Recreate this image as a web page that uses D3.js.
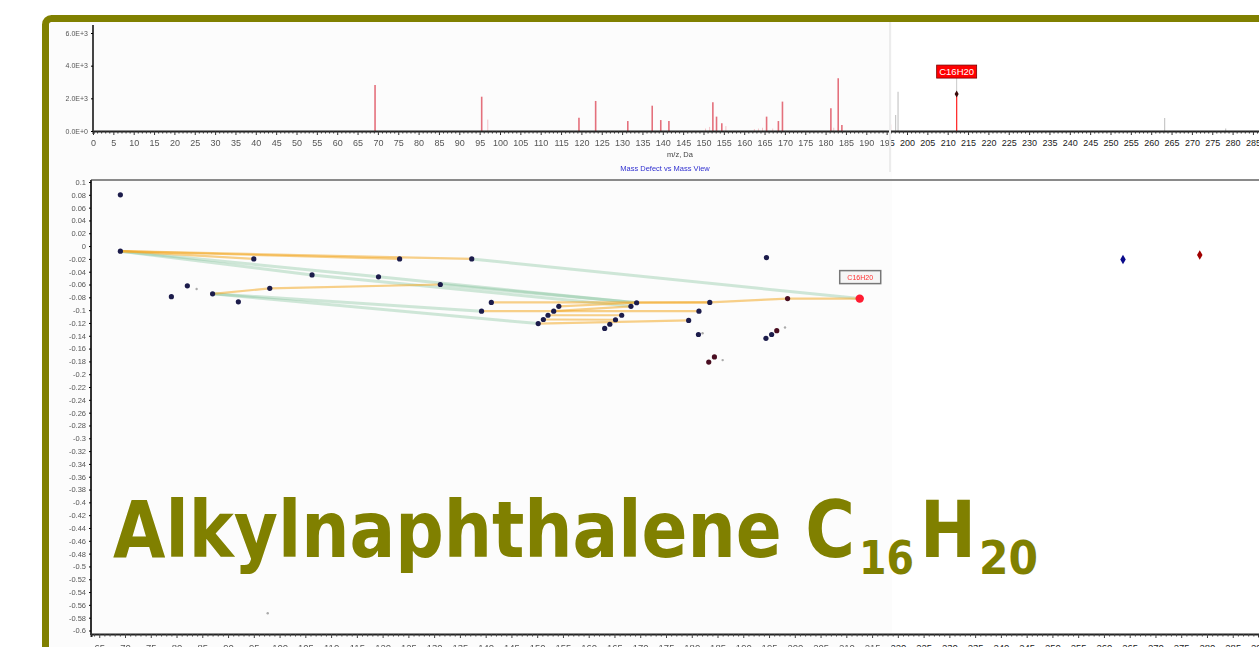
<!DOCTYPE html>
<html>
<head>
<meta charset="utf-8">
<script src="https://cdn.jsdelivr.net/npm/d3@7"></script>
<style>
  body { margin: 0; background: #fff; }
  svg { display: block; }
</style>
</head>
<body>
<div id="chart"></div>
<script>
// ---- spectrum (top panel) ----
const specMz  = [69.3, 95.5, 119.4, 123.5, 131.4, 137.4, 139.5, 141.5, 152.3, 153.2, 154.5, 165.5, 168.4, 169.4, 181.3, 183.1, 184];
const specInt = [2820, 2100, 815, 1840, 610, 1550, 670, 610, 1755, 880, 470, 880, 610, 1800, 1390, 3230, 370];
const noiseMz  = [97, 150.5, 151.5, 155.5, 162.5, 163.5, 164.5, 167, 182, 196];
const noiseInt = [700, 150, 250, 300, 120, 150, 200, 150, 200, 400];
const greyMz  = [197.2, 197.8, 263.3, 278.3];
const greyInt = [980, 2400, 800, 150];
const targetMz = 212.2, targetInt = 2260, targetLabel = "C16H20";
const specYTicks = [0, 2000, 4000, 6000];
const specYLabels = ["0.0E+0", "2.0E+3", "4.0E+3", "6.0E+3"];

// ---- mass defect vs mass (main panel) ----
const pointMz     = [69.1, 69.1, 79.0, 82.1, 87.0, 92.0, 95.0, 98.1, 106.3, 119.2, 123.3, 131.2, 137.3, 139.2, 141.1,
                     150.2, 151.2, 152.1, 153.2, 154.2, 163.1, 164.1, 165.2, 166.4, 168.2, 169.3, 179.4, 181.4, 181.3,
                     183.5, 183.3, 184.4, 194.5, 194.4, 195.5, 196.5, 198.6, 212.6];
const pointDefect = [0.080, -0.008, -0.079, -0.062, -0.0745, -0.087, -0.020, -0.066, -0.045, -0.048, -0.020, -0.060, -0.020, -0.1016, -0.088,
                     -0.121, -0.1146, -0.108, -0.1016, -0.094, -0.1286, -0.122, -0.115, -0.108, -0.094, -0.0885, -0.116, -0.1016, -0.138,
                     -0.088, -0.181, -0.173, -0.018, -0.144, -0.138, -0.132, -0.082, -0.082];
const pointKind   = ["n","n","n","n","n","n","n","n","n","n","n","n","n","n","n",
                     "n","n","n","n","n","n","n","n","n","n","n","n","n","n",
                     "n","m","m","n","n","n","m","m","t"];
const faintMz     = [83.9, 97.7, 182.1, 186.0, 198.1];
const faintDefect = [-0.067, -0.573, -0.136, -0.178, -0.127];
const diamondMz     = [263.7, 278.6];
const diamondDefect = [-0.0208, -0.014];
const diamondColor  = ["#0a0a8a", "#a00000"];
// connections between points: [from, to, kind]  o = orange, g = green
const links = [
  [1, 8, "g"], [1, 9, "g"], [8, 24, "g"], [9, 25, "g"], [11, 25, "g"], [4, 15, "g"], [4, 13, "g"], [12, 37, "g"],
  [1, 6, "o"], [1, 10, "o"], [1, 12, "o"], [4, 7, "o"], [7, 11, "o"],
  [14, 29, "o"], [13, 27, "o"], [15, 26, "o"], [19, 25, "o"], [18, 24, "o"], [17, 23, "o"], [16, 22, "o"],
  [25, 29, "o"], [29, 36, "o"], [36, 37, "o"]
];

const width = 1259, height = 647;
const olive = "#808000";

const svg = d3.select("#chart").append("svg")
  .attr("width", width).attr("height", height);

const defs = svg.append("defs");
defs.append("filter").attr("id", "soft")
  .append("feGaussianBlur").attr("stdDeviation", 0.55);
defs.append("clipPath").attr("id", "clipLeft")
  .append("rect").attr("x", 0).attr("y", 0).attr("width", 892).attr("height", height);
defs.append("clipPath").attr("id", "clipRight")
  .append("rect").attr("x", 892).attr("y", 0).attr("width", width - 892).attr("height", height);

// scales
const xSpec = d3.scaleLinear().domain([0, 290]).range([93, 93 + 290 * 4.07]);
const ySpec = d3.scaleLinear().domain([0, 6000]).range([131, 33]);
const xMain = d3.scaleLinear().domain([63.4, 290]).range([91, 1258.5]);
const yMain = d3.scaleLinear().domain([-0.6, 0.1]).range([630.5, 182]);

function drawChart(g, textColor) {
  g.append("rect").attr("x", 50).attr("y", 22).attr("width", width).attr("height", height)
    .attr("fill", textColor === "#222" ? "#fff" : "#fcfcfc");

  // ---- spectrum ----
  g.append("g").selectAll("line").data(noiseMz).join("line")
    .attr("x1", d => xSpec(d)).attr("x2", d => xSpec(d))
    .attr("y1", ySpec(0)).attr("y2", (d, i) => ySpec(noiseInt[i]))
    .attr("stroke", "#f4c4c8").attr("stroke-width", 1);
  g.append("g").selectAll("line").data(specMz).join("line")
    .attr("x1", d => xSpec(d)).attr("x2", d => xSpec(d))
    .attr("y1", ySpec(0)).attr("y2", (d, i) => ySpec(specInt[i]))
    .attr("stroke", "#e4707c").attr("stroke-width", 1.6);
  g.append("g").selectAll("line").data(greyMz).join("line")
    .attr("x1", d => xSpec(d)).attr("x2", d => xSpec(d))
    .attr("y1", ySpec(0)).attr("y2", (d, i) => ySpec(greyInt[i]))
    .attr("stroke", "#c8c8c8").attr("stroke-width", 1.2);

  const tx = xSpec(targetMz), ty = ySpec(targetInt);
  g.append("line").attr("x1", tx).attr("x2", tx).attr("y1", ySpec(0)).attr("y2", ty)
    .attr("stroke", "#ff3030").attr("stroke-width", 1.3);
  g.append("line").attr("x1", tx).attr("x2", tx).attr("y1", ty).attr("y2", ty - 16)
    .attr("stroke", "#bbb").attr("stroke-width", 0.8);
  g.append("path").attr("d", d3.symbol(d3.symbolDiamond, 14)())
    .attr("transform", `translate(${tx},${ty})`).attr("fill", "#3a0a0a");
  g.append("rect").attr("x", tx - 20).attr("y", ty - 29).attr("width", 40).attr("height", 13)
    .attr("fill", "#ff0000").attr("stroke", "#700").attr("stroke-width", 0.8);
  g.append("text").attr("x", tx).attr("y", ty - 19.2).attr("text-anchor", "middle")
    .attr("font-family", "Liberation Sans, Arial, sans-serif").attr("font-size", 9.5)
    .attr("fill", "#fff").text(targetLabel);

  const specAxis = g.append("g").attr("transform", `translate(0,${ySpec(0)})`)
    .call(d3.axisBottom(xSpec).tickValues(d3.range(0, 291, 1))
      .tickFormat(d => d % 5 === 0 ? d : "").tickSize(3).tickPadding(6));
  specAxis.select(".domain").attr("stroke", "#222").attr("stroke-width", 2);
  specAxis.selectAll(".tick line").attr("stroke", "#333")
    .attr("y2", d => d % 5 === 0 ? 4 : 2.5);
  specAxis.selectAll("text").attr("font-family", "Liberation Sans, Arial, sans-serif")
    .attr("font-size", 9).attr("fill", textColor);

  const specY = g.append("g").attr("transform", `translate(${xSpec(0)},0)`)
    .call(d3.axisLeft(ySpec).tickValues(specYTicks)
      .tickFormat((d, i) => specYLabels[i]).tickSize(2).tickPadding(3));
  specY.select(".domain").attr("d", `M0,25V${ySpec(0)}`).attr("stroke", "#444").attr("stroke-width", 2);
  specY.selectAll("text").attr("font-family", "Liberation Sans, Arial, sans-serif")
    .attr("font-size", 7).attr("fill", textColor);

  g.append("text").attr("x", 680).attr("y", 157).attr("text-anchor", "middle")
    .attr("font-family", "Liberation Sans, Arial, sans-serif").attr("font-size", 7.5)
    .attr("fill", "#444").text("m/z, Da");
  g.append("text").attr("x", 665).attr("y", 171).attr("text-anchor", "middle")
    .attr("font-family", "Liberation Sans, Arial, sans-serif").attr("font-size", 7.5)
    .attr("fill", "#3030d0").text("Mass Defect vs Mass View");

  // ---- main plot frame ----
  g.append("line").attr("x1", xMain.range()[0]).attr("x2", width)
    .attr("y1", 180).attr("y2", 180).attr("stroke", "#8a8a8a").attr("stroke-width", 2);

  const mainX = g.append("g").attr("transform", "translate(0,634)")
    .call(d3.axisBottom(xMain).tickValues(d3.range(64, 291, 1))
      .tickFormat(d => d % 5 === 0 ? d : "").tickSize(3).tickPadding(7));
  mainX.select(".domain").attr("stroke", "#222").attr("stroke-width", 2);
  mainX.selectAll(".tick line").attr("stroke", "#444").attr("y2", d => d % 5 === 0 ? 4 : 2.5);
  mainX.selectAll("text").attr("font-family", "Liberation Sans, Arial, sans-serif")
    .attr("font-size", 9.5).attr("fill", textColor);

  const mainY = g.append("g").attr("transform", `translate(${xMain.range()[0]},0)`)
    .call(d3.axisLeft(yMain).tickValues(d3.range(-30, 6).map(i => i / 50))
      .tickFormat(d => String(+d.toFixed(2))).tickSize(2).tickPadding(3));
  mainY.select(".domain").attr("d", "M0,180V635").attr("stroke", "#333").attr("stroke-width", 2);
  mainY.selectAll("text").attr("font-family", "Liberation Sans, Arial, sans-serif")
    .attr("font-size", 7.5).attr("fill", textColor);

  // links
  g.append("g").selectAll("line").data(links).join("line")
    .attr("x1", d => xMain(pointMz[d[0]])).attr("y1", d => yMain(pointDefect[d[0]]))
    .attr("x2", d => xMain(pointMz[d[1]])).attr("y2", d => yMain(pointDefect[d[1]]))
    .attr("stroke", d => d[2] === "o" ? "rgba(242,170,40,0.55)" : "rgba(120,190,145,0.35)")
    .attr("stroke-width", d => d[2] === "o" ? 2.2 : 3);

  // faint isotope markers
  g.append("g").selectAll("circle").data(faintMz).join("circle")
    .attr("cx", d => xMain(d)).attr("cy", (d, i) => yMain(faintDefect[i]))
    .attr("r", 1.2).attr("fill", "#aaa");

  // points
  g.append("g").selectAll("circle").data(pointMz).join("circle")
    .attr("cx", d => xMain(d)).attr("cy", (d, i) => yMain(pointDefect[i]))
    .attr("r", (d, i) => pointKind[i] === "t" ? 4.2 : 2.6)
    .attr("fill", (d, i) => pointKind[i] === "t" ? "#ff1a30" : pointKind[i] === "m" ? "#4a1020" : "#1c1c4c");

  // target label on main plot
  const px = xMain(pointMz[37]), py = yMain(pointDefect[37]);
  g.append("rect").attr("x", px - 20).attr("y", py - 28).attr("width", 41).attr("height", 13)
    .attr("fill", "#f5f5f5").attr("stroke", "#777").attr("stroke-width", 1.5);
  g.append("text").attr("x", px + 0.5).attr("y", py - 19).attr("text-anchor", "middle")
    .attr("font-family", "Liberation Sans, Arial, sans-serif").attr("font-size", 7)
    .attr("fill", "#ff3030").text(targetLabel);

  // diamonds
  g.append("g").selectAll("path").data(diamondMz).join("path")
    .attr("d", d3.symbol(d3.symbolDiamond, 26)())
    .attr("transform", (d, i) => `translate(${xMain(d)},${yMain(diamondDefect[i])})`)
    .attr("fill", (d, i) => diamondColor[i]);
}

// left part: soft, like a scaled screenshot
const left = svg.append("g").attr("clip-path", "url(#clipLeft)").attr("filter", "url(#soft)");
drawChart(left, "#555");
const right = svg.append("g").attr("clip-path", "url(#clipRight)");
drawChart(right, "#222");

// seam between the two screenshot parts
svg.append("rect").attr("x", 889).attr("y", 22).attr("width", 2).attr("height", 150).attr("fill", "#ececec");

// slide frame
svg.append("rect").attr("x", 45.5).attr("y", 18.5).attr("width", 1400).attr("height", 900)
  .attr("rx", 6).attr("fill", "none").attr("stroke", olive).attr("stroke-width", 7);

// title
const title = svg.append("g").attr("fill", olive)
  .attr("font-family", "DejaVu Sans, Verdana, sans-serif").attr("font-weight", "bold");
title.append("text").attr("x", 113).attr("y", 557).attr("font-size", 78)
  .attr("textLength", 742).attr("lengthAdjust", "spacingAndGlyphs").text("Alkylnaphthalene C");
title.append("text").attr("x", 859).attr("y", 574).attr("font-size", 47)
  .attr("textLength", 55).attr("lengthAdjust", "spacingAndGlyphs").text("16");
title.append("text").attr("x", 920).attr("y", 557).attr("font-size", 78)
  .attr("textLength", 56).attr("lengthAdjust", "spacingAndGlyphs").text("H");
title.append("text").attr("x", 979).attr("y", 574).attr("font-size", 47)
  .attr("textLength", 59).attr("lengthAdjust", "spacingAndGlyphs").text("20");
</script>
</body>
</html>
